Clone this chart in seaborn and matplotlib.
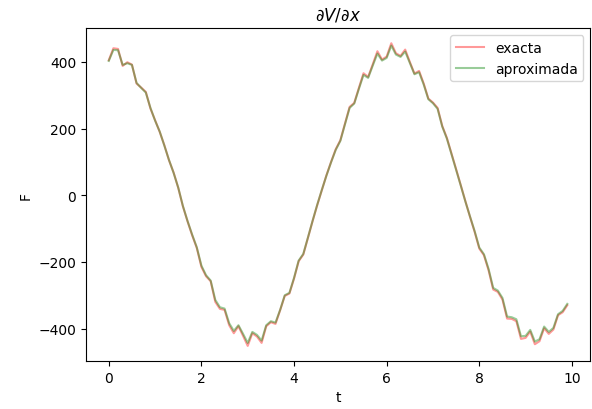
import numpy as np
import pandas as pd
import matplotlib
matplotlib.use("Agg")
import matplotlib.pyplot as plt
import seaborn as sns

# sample times (step 0.1)
t = np.round(np.arange(0, 10, 0.1), 1)

exacta = [
    405, 441, 439, 388, 399, 392, 335, 323, 310, 260,
    225, 190, 150, 105, 68, 22, -33, -78, -120, -158,
    -215, -243, -258, -320, -341, -344, -390, -414, -393, -422,
    -452, -414, -424, -443, -393, -381, -386, -345, -302, -295,
    -250, -198, -178, -128, -78, -30, 15, 60, 100, 138,
    165, 215, 265, 277, 322, 366, 355, 393, 432, 407,
    416, 456, 426, 418, 437, 400, 365, 373, 335, 290,
    278, 262, 208, 172, 125, 78, 30, -18, -65, -110,
    -160, -180, -225, -283, -290, -313, -370, -371, -378, -431,
    -428, -409, -447, -438, -399, -416, -403, -360, -351, -330,
]

aproximada = [
    403, 436, 435, 391, 396, 391, 337, 322, 308, 262,
    224, 191, 149, 106, 67, 23, -32, -77, -118, -156,
    -211, -240, -256, -314, -336, -340, -384, -407, -390, -416,
    -443, -410, -419, -436, -390, -378, -382, -344, -300, -293,
    -248, -196, -176, -127, -77, -29, 16, 59, 99, 136,
    163, 213, 262, 275, 319, 361, 352, 389, 425, 404,
    412, 449, 422, 415, 431, 397, 363, 369, 332, 288,
    276, 259, 206, 170, 123, 76, 29, -19, -64, -108,
    -157, -177, -221, -278, -286, -308, -364, -366, -372, -423,
    -422, -404, -439, -432, -394, -410, -398, -357, -347, -326,
]

df = pd.DataFrame({"t": t, "exacta": exacta, "aproximada": aproximada})

fig = plt.figure(figsize=(5.92, 4.10), dpi=100)
ax = fig.add_axes([0.145, 0.117, 0.852, 0.812])

sns.lineplot(data=df, x="t", y="exacta", color="red", alpha=0.4,
             linewidth=1.5, label="exacta", ax=ax)
sns.lineplot(data=df, x="t", y="aproximada", color="green", alpha=0.4,
             linewidth=1.5, label="aproximada", ax=ax)

ax.set_title(r"$\partial V/\partial x$")
ax.set_xlabel("t")
ax.set_ylabel("F")
ax.set_xticks([0, 2, 4, 6, 8, 10])
ax.set_yticks([-400, -200, 0, 200, 400])
ax.legend(loc="upper right")

fig.savefig("out.png", dpi=100)
